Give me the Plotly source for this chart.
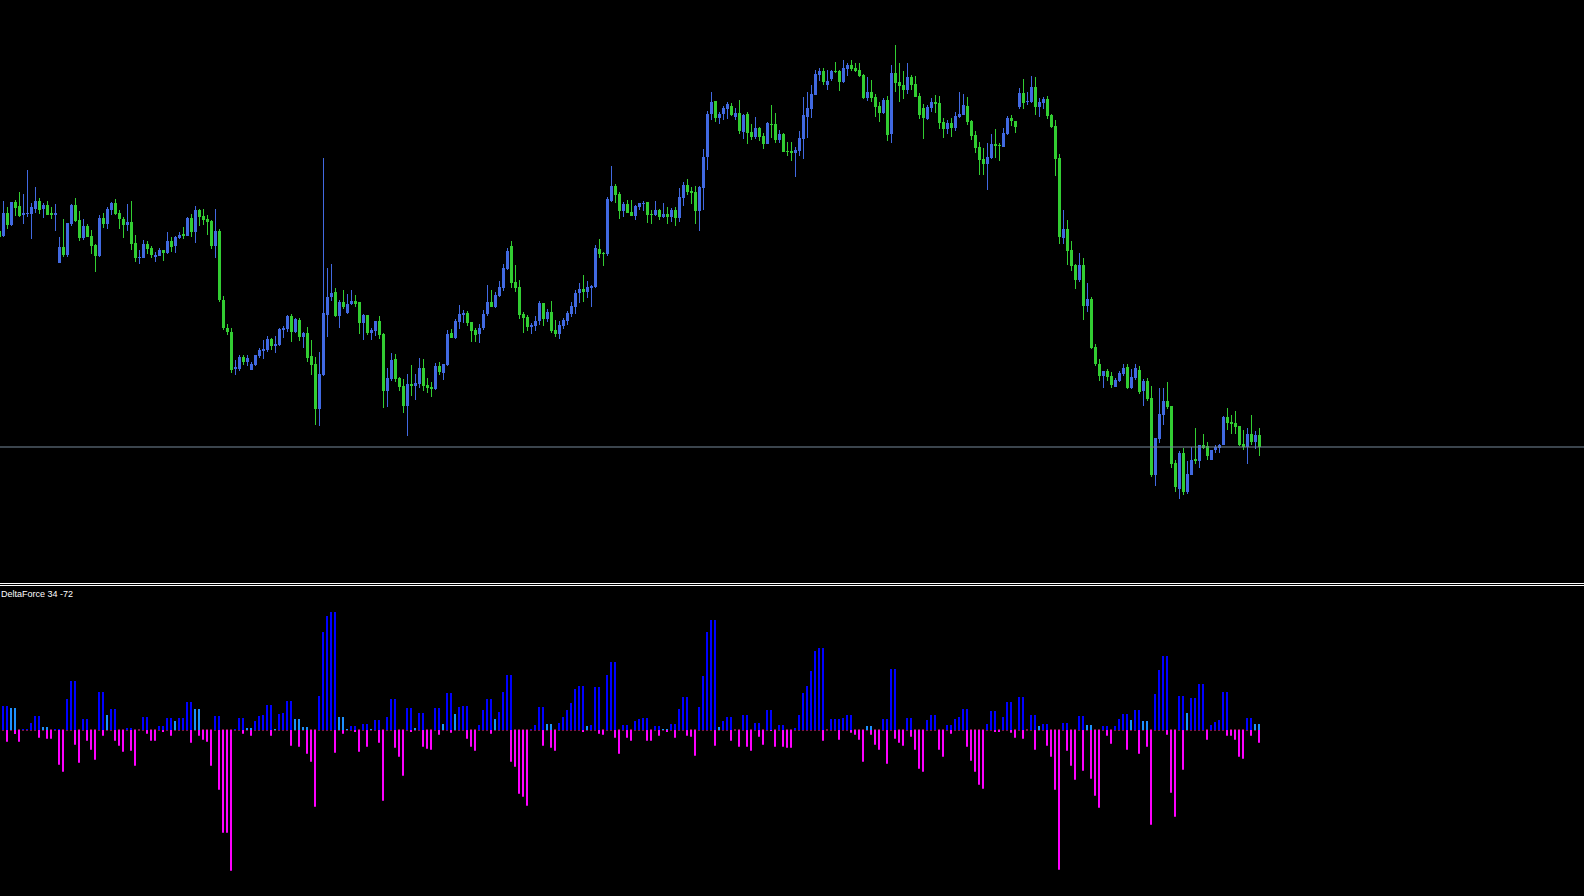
import numpy as np
import plotly.graph_objects as go

# ---------------- price candles (index -1 .. 314), arbitrary price points ----------------
first_index = -1
opens = [369,
 364,387,375,398,394,385,386,386,391,399,
 391,395,387,385,337,353,345,376,395,380,
 362,374,364,355,344,382,376,390,397,387,
 381,375,378,357,342,342,356,352,343,344,
 350,347,359,354,362,366,364,382,368,390,
 384,381,379,354,369,300,272,268,231,231,
 243,238,230,235,244,249,250,261,254,255,
 270,271,284,268,280,263,267,244,236,191,
 225,285,303,308,284,298,287,296,299,298,
 277,285,267,269,279,266,209,221,241,222,
 214,194,216,214,216,232,215,213,211,234,
 227,235,267,262,278,285,287,278,270,266,
 272,286,298,293,304,312,331,354,318,313,
 286,283,273,274,279,297,281,288,270,266,
 274,279,286,293,307,311,308,312,313,351,
 347,346,399,414,406,389,396,388,384,393,
 396,398,386,385,390,383,386,383,390,382,
 402,415,409,408,389,412,443,486,499,482,
 486,491,494,483,487,468,486,468,463,472,
 464,456,476,476,460,466,449,449,447,449,
 461,483,491,505,525,529,515,521,529,529,
 518,531,535,532,530,525,502,508,503,494,
 487,500,466,527,518,515,510,523,516,504,
 492,481,492,498,497,478,471,477,472,483,
 485,494,479,465,453,441,436,442,456,455,
 453,466,482,479,493,507,498,498,513,493,
 497,501,485,474,442,362,371,350,335,320,
 335,294,301,253,236,224,229,224,213,219,
 226,233,212,222,230,209,219,202,125,161,
 185,199,194,137,111,147,108,125,141,139,
 155,154,140,150,152,155,183,178,177,174,
 156,153,166,158,165]
highs = [371,
 399,393,398,400,408,406,430,397,413,402,
 397,399,393,396,363,381,377,396,402,389,
 381,376,370,356,385,387,393,398,401,390,
 383,396,399,365,350,360,359,354,348,352,
 350,368,363,364,368,373,383,386,394,391,
 391,385,380,391,371,304,276,272,240,245,
 245,245,238,245,252,260,264,262,264,272,
 274,285,286,282,282,268,273,260,243,248,
 442,332,336,312,300,310,306,310,305,298,
 286,285,272,279,284,267,232,247,246,223,
 221,226,235,226,242,241,222,218,237,238,
 236,270,271,281,295,290,289,278,272,276,
 290,315,310,308,319,336,352,359,335,320,
 288,285,277,284,299,297,291,299,280,279,
 282,289,298,310,317,325,319,315,355,361,
 348,403,434,416,408,398,400,400,395,397,
 399,398,390,399,391,397,393,392,393,412,
 418,421,413,414,414,451,489,508,499,488,
 494,498,497,492,500,486,488,476,483,473,
 467,478,495,487,470,467,458,458,453,469,
 503,508,515,530,532,532,530,530,538,530,
 540,537,540,537,537,526,523,520,506,498,
 502,504,535,555,537,529,537,525,524,507,
 496,495,502,505,504,482,480,482,488,508,
 506,503,480,469,458,452,457,466,471,457,
 472,484,485,479,512,521,508,524,523,502,
 503,504,486,480,446,390,380,359,336,347,
 342,317,303,256,241,229,231,228,222,229,
 236,236,231,236,234,221,222,214,162,212,
 212,218,194,140,149,152,139,153,172,155,
 166,158,150,155,156,184,192,185,189,174,
 170,172,185,169,172]
lows = [362,
 363,371,374,384,383,376,383,361,387,386,
 382,385,381,369,337,343,343,374,378,359,
 360,363,346,328,343,372,371,385,385,371,
 362,369,350,338,336,342,346,342,338,344,
 339,346,348,347,361,361,364,363,357,374,
 375,365,351,342,298,270,265,227,225,229,
 235,234,230,234,242,241,248,250,247,254,
 262,268,258,267,259,252,238,225,175,174,
 224,263,299,283,272,291,286,295,293,266,
 260,265,260,264,261,192,193,219,218,209,
 187,164,204,200,212,209,207,203,210,225,
 220,234,262,261,271,277,274,258,258,257,
 270,284,293,292,303,309,330,312,308,281,
 267,269,266,269,275,274,278,267,263,261,
 271,275,283,286,297,298,302,293,312,342,
 334,344,398,397,381,383,387,384,380,390,
 389,377,376,384,380,382,376,378,374,378,
 394,405,396,376,369,390,430,480,478,476,
 480,481,484,480,466,461,456,460,461,459,
 451,456,462,457,457,448,444,439,423,444,
 441,462,482,505,519,515,510,519,527,509,
 517,524,529,528,523,501,499,498,483,478,
 486,459,457,508,498,501,506,510,503,481,
 461,480,488,487,471,462,466,463,469,482,
 485,475,460,447,425,425,410,441,442,439,
 453,465,474,467,491,491,495,497,485,483,
 491,481,472,424,356,356,335,329,311,318,
 280,288,251,234,219,212,219,212,213,218,
 224,211,211,220,206,194,199,123,114,157,
 175,191,132,108,101,105,106,125,136,132,
 151,140,140,147,147,155,170,166,166,154,
 150,136,155,151,144]
closes = [363,
 387,375,398,392,384,387,387,393,399,390,
 395,385,385,387,353,345,377,395,379,362,
 374,363,354,344,382,376,391,397,386,381,
 375,378,356,342,343,356,351,345,345,350,
 347,359,353,363,365,364,382,368,390,383,
 380,378,354,369,300,272,268,230,233,243,
 238,242,236,245,250,251,261,254,256,271,
 272,284,268,281,263,267,242,235,191,226,
 287,303,307,284,298,293,296,299,296,277,
 285,267,270,279,265,209,222,240,221,213,
 194,216,214,217,232,214,212,211,234,228,
 236,266,262,279,286,287,277,269,265,272,
 286,298,293,305,313,332,349,317,312,285,
 282,273,275,279,297,281,288,269,266,275,
 280,287,294,307,311,308,313,314,352,346,
 346,401,414,405,389,396,387,384,394,397,
 397,385,385,390,383,386,383,390,382,403,
 415,408,407,389,413,443,486,498,482,486,
 492,496,485,487,469,485,467,463,472,463,
 456,477,475,460,466,448,448,447,450,462,
 485,492,506,526,529,518,519,529,528,518,
 532,535,531,529,524,502,508,502,493,487,
 500,465,527,517,514,510,523,515,503,485,
 482,493,498,496,477,471,477,472,484,486,
 495,478,464,452,440,436,443,456,454,454,
 467,482,479,473,507,497,499,513,493,498,
 501,484,473,441,363,371,349,334,320,335,
 294,301,252,236,224,229,223,215,220,227,
 232,212,223,232,208,219,201,125,162,186,
 199,193,136,113,147,108,126,140,139,155,
 152,144,150,153,155,183,177,176,173,155,
 153,166,158,165,153]

# ---------------- DeltaForce indicator (index 0 .. 314) ----------------
indicator_label = "DeltaForce 34 -72"
delta_up = [
 72,72,66,66,0,3,3,21,42,42,
 9,9,0,3,3,0,93,147,147,0,
 33,33,0,0,114,114,45,63,63,0,
 0,6,6,0,0,39,39,0,0,12,
 12,36,36,27,36,36,84,84,63,63,
 0,0,0,42,42,0,0,0,3,36,
 36,6,6,27,42,45,75,75,3,48,
 51,87,87,33,33,9,9,0,0,102,
 294,342,354,354,39,39,3,12,12,0,
 18,18,3,30,30,0,39,93,93,0,
 0,66,66,6,51,51,0,0,66,66,
 18,111,111,48,69,72,72,0,0,15,
 60,93,93,33,54,114,165,165,0,0,
 0,0,3,15,69,69,18,18,0,21,
 39,60,81,123,132,132,12,15,129,129,
 0,165,204,204,0,15,15,0,27,33,
 36,36,0,12,12,3,3,18,18,63,
 99,99,0,0,69,162,294,330,330,9,
 27,39,39,0,0,45,45,0,21,21,
 0,60,60,0,15,15,0,0,6,45,
 111,132,177,237,246,246,0,33,33,33,
 36,45,45,0,0,0,12,12,0,0,
 33,33,183,183,0,0,36,36,0,0,
 0,30,45,45,0,0,15,15,33,39,
 63,63,0,0,0,0,18,57,57,0,
 39,84,84,0,99,99,0,45,45,12,
 18,18,0,0,0,21,21,0,0,42,
 42,15,15,0,0,12,12,0,12,33,
 48,48,30,60,60,27,27,0,108,180,
 222,222,0,0,102,102,51,96,96,138,
 138,0,15,24,30,114,114,0,0,0,
 0,36,36,18,18]
delta_up_weak = [
 0,0,1,1,0,0,0,0,0,0,
 1,1,0,0,0,0,0,0,0,0,
 0,0,0,0,0,0,1,0,0,0,
 0,0,0,0,0,0,0,0,0,0,
 0,0,0,1,0,0,0,0,1,1,
 0,0,0,0,0,0,0,0,0,0,
 0,1,1,0,0,0,0,0,1,0,
 0,0,0,1,1,1,1,0,0,0,
 0,0,0,0,1,1,1,0,0,0,
 0,0,1,0,0,0,0,0,0,0,
 0,0,0,1,0,0,0,0,0,0,
 1,0,0,1,0,0,0,0,0,0,
 0,0,0,1,0,0,0,0,0,0,
 0,0,0,0,0,0,1,1,0,0,
 0,0,0,0,0,0,1,0,0,0,
 0,0,0,0,0,0,0,0,0,0,
 0,0,0,0,0,1,1,0,0,0,
 0,0,0,0,0,0,0,0,0,1,
 0,0,0,0,0,0,0,0,0,0,
 0,0,0,0,0,0,0,0,0,0,
 0,0,0,0,0,0,0,0,0,0,
 0,0,0,0,0,0,1,1,0,0,
 0,0,0,0,0,0,0,0,0,0,
 0,0,0,0,0,0,0,0,0,0,
 0,0,0,0,0,0,0,0,0,0,
 0,0,0,0,0,0,0,0,0,1,
 0,0,0,0,0,0,0,0,0,0,
 0,1,1,0,0,0,0,0,0,0,
 0,0,1,0,0,1,1,0,0,0,
 0,0,0,0,0,0,1,0,0,0,
 0,0,0,0,0,0,0,0,0,0,
 0,0,0,1,1]
delta_down = [
 0,-35,0,-12,-35,0,0,0,0,-23,
 0,-26,-26,0,-104,-125,0,0,-44,-98,
 0,-32,-59,-89,0,-17,0,0,-32,-47,
 -65,0,-62,-107,0,0,-11,-32,-32,0,
 -5,0,-17,0,0,0,0,-38,0,-17,
 -29,-35,-107,0,-179,-308,-308,-422,0,0,
 -11,0,-17,0,0,0,0,-17,0,0,
 0,0,-47,0,-50,0,-71,-95,-230,0,
 0,0,0,-68,0,-11,0,0,-5,-65,
 0,-50,0,0,-38,-212,0,0,-53,-80,
 -137,0,-5,0,0,-50,-56,-59,0,-14,
 0,0,-8,0,0,0,-26,-50,-62,0,
 0,0,-11,0,0,0,0,-95,-110,-191,
 -200,-227,0,0,0,-47,0,-53,-62,0,
 0,0,0,0,0,-5,0,0,0,-11,
 -14,0,0,-23,-71,0,-23,-32,0,0,
 0,-32,-32,0,-17,0,-5,0,-23,0,
 0,-17,-20,-77,0,0,0,0,-47,0,
 0,0,-32,0,-50,0,-50,-62,0,-20,
 -44,0,-3,-50,0,-50,-53,-53,0,0,
 0,0,0,0,0,-32,0,0,0,-29,
 0,0,-8,-14,-29,-95,0,-14,-44,-59,
 0,-101,0,-26,-38,-47,0,-20,-59,-116,
 -125,0,0,0,-59,-80,0,-11,0,0,
 0,-50,-92,-125,-164,-176,0,0,-5,-5,
 0,0,-8,-23,0,-26,0,0,-59,0,
 0,-47,-80,-179,-419,0,-62,-107,-149,0,
 -122,0,-146,-197,-233,0,-17,-41,0,0,
 0,-59,0,0,-71,0,-50,-284,0,0,
 0,-14,-188,-260,0,-119,0,0,0,0,
 0,-29,0,0,0,0,-17,-17,-29,-80,
 -86,0,-17,0,-38]

# ---------------- styling ----------------
BULL = "#4169E1"
BEAR = "#32CD32"
UP_STRONG = "#0000FF"
UP_WEAK = "#1E90FF"
DOWN = "#FF00FF"
ZERO_DASH = "#80104A"

o = np.array(opens, float); h = np.array(highs, float)
l = np.array(lows, float); c = np.array(closes, float)
n = len(o)
xk = np.arange(n) + first_index
colors = np.where(c > o, BULL, BEAR)
body_base = np.minimum(o, c)
body_len = np.maximum(np.abs(c - o), 1.0)
wick_lo = np.minimum(l, body_base)
wick_hi = np.maximum(h, np.maximum(o, c))

fig = go.Figure()
fig.add_trace(go.Bar(x=xk, base=wick_lo, y=wick_hi - wick_lo, width=0.25,
                     marker=dict(color=colors, line=dict(width=0)),
                     hoverinfo="skip", xaxis="x", yaxis="y"))
fig.add_trace(go.Bar(x=xk, base=body_base, y=body_len, width=0.75,
                     marker=dict(color=colors, line=dict(width=0)),
                     hoverinfo="skip", xaxis="x", yaxis="y"))

m = len(delta_up)
hx = np.arange(m) - 0.125
up_colors = [UP_WEAK if w else UP_STRONG for w in delta_up_weak]
fig.add_trace(go.Bar(x=hx, base=[-1.5] * m, y=[3] * m, width=0.5,
                     marker=dict(color=ZERO_DASH, line=dict(width=0)),
                     hoverinfo="skip", xaxis="x2", yaxis="y2"))
fig.add_trace(go.Bar(x=hx, y=delta_up, width=0.5,
                     marker=dict(color=up_colors, line=dict(width=0)),
                     hoverinfo="skip", xaxis="x2", yaxis="y2"))
fig.add_trace(go.Bar(x=hx, y=delta_down, width=0.5,
                     marker=dict(color=DOWN, line=dict(width=0)),
                     hoverinfo="skip", xaxis="x2", yaxis="y2"))

W, H = 1584, 896
main_bottom_px = 583
sub_top_px = 586
xr = [-0.875, 395.125]
hidden = dict(visible=False, showgrid=False, zeroline=False, fixedrange=True)

fig.update_layout(
    width=W, height=H, margin=dict(l=0, r=0, t=0, b=0, pad=0),
    paper_bgcolor="black", plot_bgcolor="black",
    showlegend=False, barmode="overlay",
    xaxis=dict(domain=[0, 1], range=xr, anchor="y", **hidden),
    yaxis=dict(domain=[1 - main_bottom_px / H, 1], range=[600 - main_bottom_px, 600], anchor="x", **hidden),
    xaxis2=dict(domain=[0, 1], range=xr, anchor="y2", **hidden),
    yaxis2=dict(domain=[0, (H - sub_top_px) / H], range=[-498, 432], anchor="x2", **hidden),
    shapes=[
        dict(type="line", xref="paper", yref="y", x0=0, x1=1,
             y0=closes[-1], y1=closes[-1], line=dict(color="#778899", width=1)),
        dict(type="line", xref="paper", yref="paper", x0=0, x1=1,
             y0=1 - 583.5 / H, y1=1 - 583.5 / H, line=dict(color="white", width=1)),
        dict(type="line", xref="paper", yref="paper", x0=0, x1=1,
             y0=1 - 585.5 / H, y1=1 - 585.5 / H, line=dict(color="white", width=1)),
    ],
    annotations=[dict(text=indicator_label, xref="paper", yref="paper", x=0, y=1 - 588 / H,
                      xanchor="left", yanchor="top", showarrow=False,
                      font=dict(family="Liberation Sans, Arial", size=9, color="white"),
                      borderpad=0)],
)

fig.write_html("out.html", config={"displayModeBar": False},
               post_script="document.body.style.margin='0';document.body.style.background='black';")
